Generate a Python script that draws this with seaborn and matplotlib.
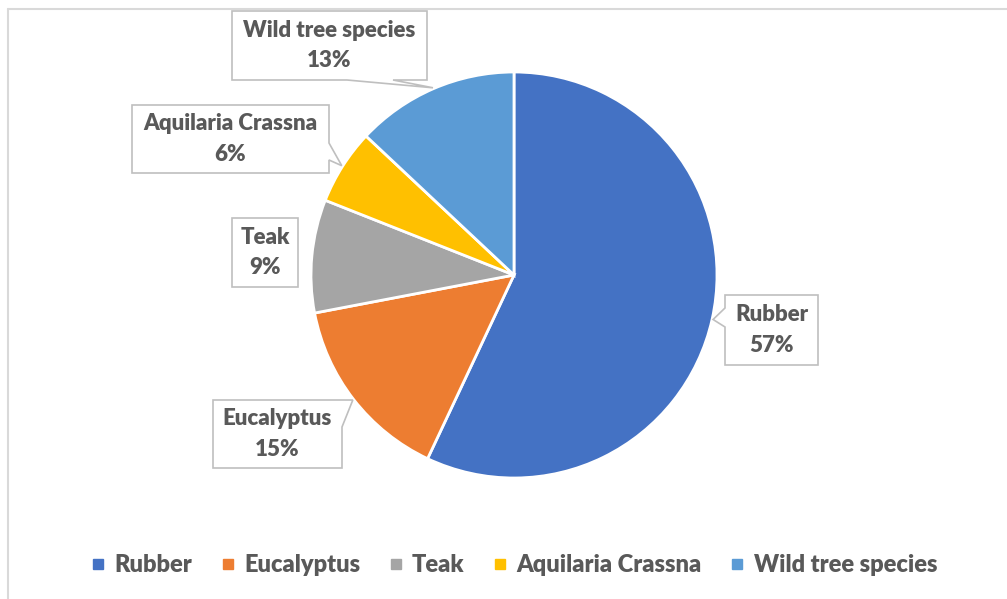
import numpy as np
import matplotlib
matplotlib.use("Agg")
import matplotlib.pyplot as plt
from matplotlib.patches import Polygon
from matplotlib.lines import Line2D
import seaborn as sns

# Land use shares (percent)
species = ['Rubber', 'Eucalyptus', 'Teak', 'Aquilaria Crassna', 'Wild tree species']
shares = [57, 15, 9, 6, 13]
pct_labels = ['57%', '15%', '9%', '6%', '13%']
colors = ['#4472C4', '#ED7D31', '#A5A5A5', '#FFC000', '#5B9BD5']

W, H = 1007, 599
sns.set_theme(style='white')
plt.rcParams['font.family'] = ['Lato', 'DejaVu Sans']
text_color = '#595959'
weight = 'heavy'

fig = plt.figure(figsize=(W / 100, H / 100), dpi=100)
ax = fig.add_axes([0, 0, 1, 1])

cx, cy, r = 514, H - 275, 203
ax.pie(shares, colors=sns.color_palette(colors), startangle=90, counterclock=False,
       center=(cx, cy), radius=r, wedgeprops=dict(edgecolor='white', linewidth=2))
ax.set_xlim(0, W)
ax.set_ylim(0, H)
ax.set_aspect('auto')
ax.axis('off')

# callout boxes in pixel coords: (left, top, right, bottom, pointer side, pointer base)
callouts = [
    (725, 295, 818, 365, 'left', (308, 327)),
    (213, 400, 342, 468, 'right', (400, 427)),
    (232, 218, 298, 287, None, None),
    (132, 105, 329, 173, 'right', (143, 160)),
    (232, 11, 427, 80, 'bottom', (347, 393)),
]

cum = 0
for name, share, pct, (x0, y0, x1, y1, side, base) in zip(species, shares, pct_labels, callouts):
    mid = np.deg2rad(90 - 360 * (cum + share / 2) / 100)
    cum += share
    tip = (cx + (r + 1) * np.cos(mid), cy + (r + 1) * np.sin(mid))
    pts = [(x0, y0), (x1, y0)]
    if side == 'right':
        pts += [(x1, base[0]), None, (x1, base[1])]
    pts += [(x1, y1)]
    if side == 'bottom':
        pts += [(base[1], y1), None, (base[0], y1)]
    pts += [(x0, y1)]
    if side == 'left':
        pts += [(x0, base[1]), None, (x0, base[0])]
    poly = [tip if p is None else (p[0], H - p[1]) for p in pts]
    ax.add_patch(Polygon(poly, closed=True, facecolor='white', edgecolor='#bfbfbf',
                         linewidth=1.2, zorder=5))
    ax.text((x0 + x1) / 2, H - (y0 + y1) / 2, f"{name}\n{pct}", ha='center', va='center',
            fontsize=16, fontweight=weight, color=text_color, linespacing=1.55, zorder=6)

# chart border
fig.add_artist(Line2D([8 / W, 1], [1 - 9 / H, 1 - 9 / H], color='#d9d9d9', lw=1.5))
fig.add_artist(Line2D([8 / W, 8 / W], [0, 1 - 9 / H], color='#d9d9d9', lw=1.5))

handles = [Line2D([], [], marker='s', linestyle='', markersize=7,
                  markerfacecolor=c, markeredgecolor=c) for c in colors]
fig.legend(handles, species, loc='center', bbox_to_anchor=(514 / W, 1 - 565 / H), ncol=5,
           frameon=False, prop=dict(weight=weight, size=17), labelcolor=text_color,
           handlelength=0.6, handletextpad=0.4, columnspacing=1.2)

fig.savefig('out.png', dpi=100)
